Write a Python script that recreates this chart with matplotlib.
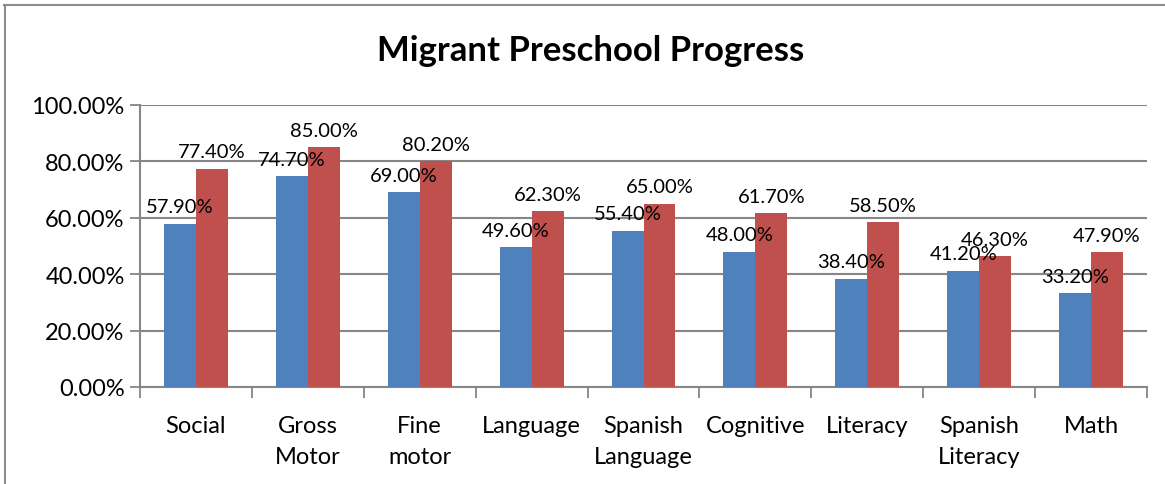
import matplotlib

matplotlib.use("Agg")
import matplotlib.pyplot as plt
from matplotlib.lines import Line2D
from matplotlib.ticker import FixedLocator, FuncFormatter
import numpy as np

plt.rcParams["font.family"] = ["Lato", "DejaVu Sans"]

CATEGORIES = ["Social", "Gross\nMotor", "Fine\nmotor", "Language", "Spanish\nLanguage",
              "Cognitive", "Literacy", "Spanish\nLiteracy", "Math"]
SERIES_BLUE = [0.579, 0.747, 0.690, 0.496, 0.554, 0.480, 0.384, 0.412, 0.332]
SERIES_RED = [0.774, 0.850, 0.802, 0.623, 0.650, 0.617, 0.585, 0.463, 0.479]
Y_TICKS = [0.0, 0.2, 0.4, 0.6, 0.8, 1.0]

BLUE = "#4F81BD"
RED = "#C0504D"
GRID = "#868686"

W, H = 1165, 485
fig = plt.figure(figsize=(W / 100, H / 100), dpi=100)
ax = fig.add_axes([140 / W, 1 - 388 / H, (1147 - 140) / W, (388 - 106) / H])

x = np.arange(len(CATEGORIES))
bw = 1 / 3.5
bars_b = ax.bar(x - bw / 2, SERIES_BLUE, bw, color=BLUE, zorder=3)
bars_r = ax.bar(x + bw / 2, SERIES_RED, bw, color=RED, zorder=3)

for bars, vals in ((bars_b, SERIES_BLUE), (bars_r, SERIES_RED)):
    for b, v in zip(bars, vals):
        ax.annotate(f"{v:.2%}", (b.get_x() + b.get_width() / 2, v),
                    xytext=(0, 6), textcoords="offset points",
                    ha="center", va="bottom", fontsize=14.5, zorder=5)

ax.set_xlim(-0.5, len(CATEGORIES) - 0.5)
ax.set_ylim(0, 1)
ax.yaxis.set_major_locator(FixedLocator(Y_TICKS))
ax.yaxis.set_major_formatter(FuncFormatter(lambda v, _: f"{v:.2%}"))
ax.tick_params(axis="y", length=7, width=1.3, color=GRID, labelsize=17, pad=4)
ax.grid(axis="y", color=GRID, linewidth=1.5, zorder=0)
ax.set_axisbelow(True)

ax.set_xticks(x)
ax.set_xticklabels(CATEGORIES, fontsize=17, linespacing=1.6, va="top")
ax.tick_params(axis="x", which="major", length=0, pad=20)
ax.set_xticks(np.arange(-0.5, len(CATEGORIES)), minor=True)
ax.tick_params(axis="x", which="minor", length=8, width=1.3, color=GRID)

for side in ("top", "right"):
    ax.spines[side].set_visible(False)
for side in ("left", "bottom"):
    ax.spines[side].set_color(GRID)
    ax.spines[side].set_linewidth(1.5)

fig.text(591 / W, 1 - 51 / H, "Migrant Preschool Progress", ha="center", va="center",
         fontsize=25, fontweight="bold")

# outer chart border (left and top edges visible)
fig.add_artist(Line2D([5 / W, 5 / W], [0, 1 - 6 / H], transform=fig.transFigure,
                      color="#8C8C8C", linewidth=1.5))
fig.add_artist(Line2D([4 / W, 1], [1 - 6 / H, 1 - 6 / H], transform=fig.transFigure,
                      color="#8C8C8C", linewidth=1.5))

fig.savefig("out.png", dpi=100)
